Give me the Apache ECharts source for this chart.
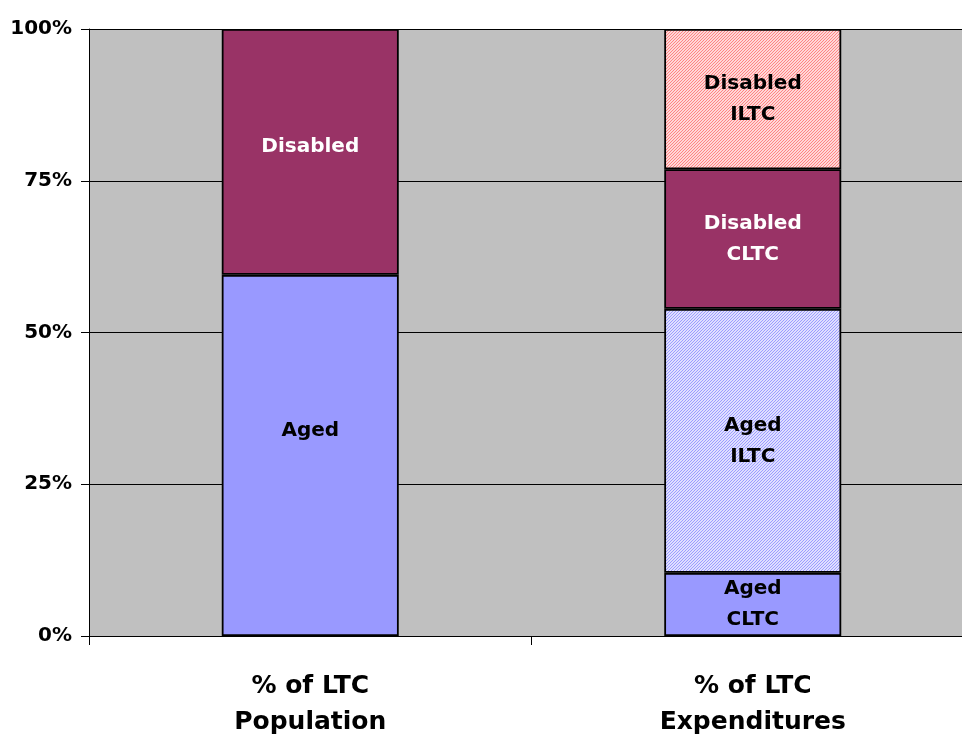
<!DOCTYPE html>
<html>
<head>
<meta charset="utf-8">
<script src="https://cdn.jsdelivr.net/npm/echarts@6/dist/echarts.min.js"></script>
<style>
  html, body { margin: 0; padding: 0; background: #fff; }
  #chart { width: 962px; height: 736px; }
</style>
</head>
<body>
<div id="chart"></div>
<script>
const categories = ['% of LTC\nPopulation', '% of LTC\nExpenditures'];

// share of LTC population (bar 1)
const populationNames = ['Aged', 'Disabled'];
const populationValues = [59.5, 40.5];

// share of LTC expenditures (bar 2), bottom to top
const expenditureNames = ['Aged\nCLTC', 'Aged\nILTC', 'Disabled\nCLTC', 'Disabled\nILTC'];
const expenditureValues = [10.4, 43.5, 23.0, 23.1];

const yTicks = [0, 25, 50, 75, 100];

// small diagonal hatch tile, like the excel fill pattern
function hatch(lineColor) {
  const s = 3;
  const c = document.createElement('canvas');
  c.width = s; c.height = s;
  const ctx = c.getContext('2d');
  ctx.fillStyle = '#ffffff';
  ctx.fillRect(0, 0, s, s);
  ctx.strokeStyle = lineColor;
  ctx.lineWidth = 1.2;
  ctx.beginPath();
  ctx.moveTo(-1, s + 1); ctx.lineTo(s + 1, -1);
  ctx.moveTo(-1, 1); ctx.lineTo(1, -1);
  ctx.moveTo(s - 1, s + 1); ctx.lineTo(s + 1, s - 1);
  ctx.stroke();
  return { image: c, repeat: 'repeat' };
}

const font = '"DejaVu Sans", Arial, sans-serif';
const popStyles = [
  { color: '#9999FF', text: '#000000', offset: [0, -25] },
  { color: '#993366', text: '#ffffff', offset: [0, -5] }
];
const expStyles = [
  { color: '#9999FF', text: '#000000' },
  { color: hatch('#9999FF'), text: '#000000' },
  { color: '#993366', text: '#ffffff' },
  { color: hatch('#FF8080'), text: '#000000' }
];

function makeSeries(name, idx, value, st) {
  const data = categories.map((_, i) => (i === idx ? value : '-'));
  return {
    name: name,
    type: 'bar',
    stack: 'total',
    barWidth: '40%',
    data: data,
    itemStyle: { color: st.color, borderColor: '#000', borderWidth: 1.8 },
    label: {
      show: true,
      position: 'inside',
      formatter: name,
      color: st.text,
      fontFamily: font,
      fontWeight: 'bold',
      fontSize: 20,
      lineHeight: 31,
      offset: st.offset || [0, 0]
    },
    emphasis: { disabled: true }
  };
}

const series = [];
populationNames.forEach((n, i) => series.push(makeSeries(n, 0, populationValues[i], popStyles[i])));
expenditureNames.forEach((n, i) => series.push(makeSeries(n, 1, expenditureValues[i], expStyles[i])));

const chart = echarts.init(document.getElementById('chart'));
chart.setOption({
  animation: false,
  backgroundColor: '#ffffff',
  grid: {
    left: 89, top: 29, bottom: 100, width: 885,
    show: true, backgroundColor: '#C0C0C0', borderWidth: 0,
    containLabel: false,
    outerBoundsMode: 'none'
  },
  xAxis: {
    type: 'category',
    data: categories,
    axisLine: { lineStyle: { color: '#000', width: 1 } },
    axisTick: { show: true, length: 9, lineStyle: { color: '#000' } },
    axisLabel: {
      color: '#000', fontFamily: font, fontWeight: 'bold',
      fontSize: 25, lineHeight: 36, margin: 32
    }
  },
  yAxis: {
    type: 'value',
    min: yTicks[0],
    max: yTicks[yTicks.length - 1],
    interval: 25,
    axisLine: { show: true, lineStyle: { color: '#000', width: 1 } },
    axisTick: { show: true, length: 8, lineStyle: { color: '#000' } },
    splitLine: { show: true, lineStyle: { color: '#000', width: 1 } },
    axisLabel: {
      color: '#000', fontFamily: font, fontWeight: 'bold',
      fontSize: 20, margin: 17, formatter: '{value}%'
    }
  },
  series: series
});
</script>
</body>
</html>
